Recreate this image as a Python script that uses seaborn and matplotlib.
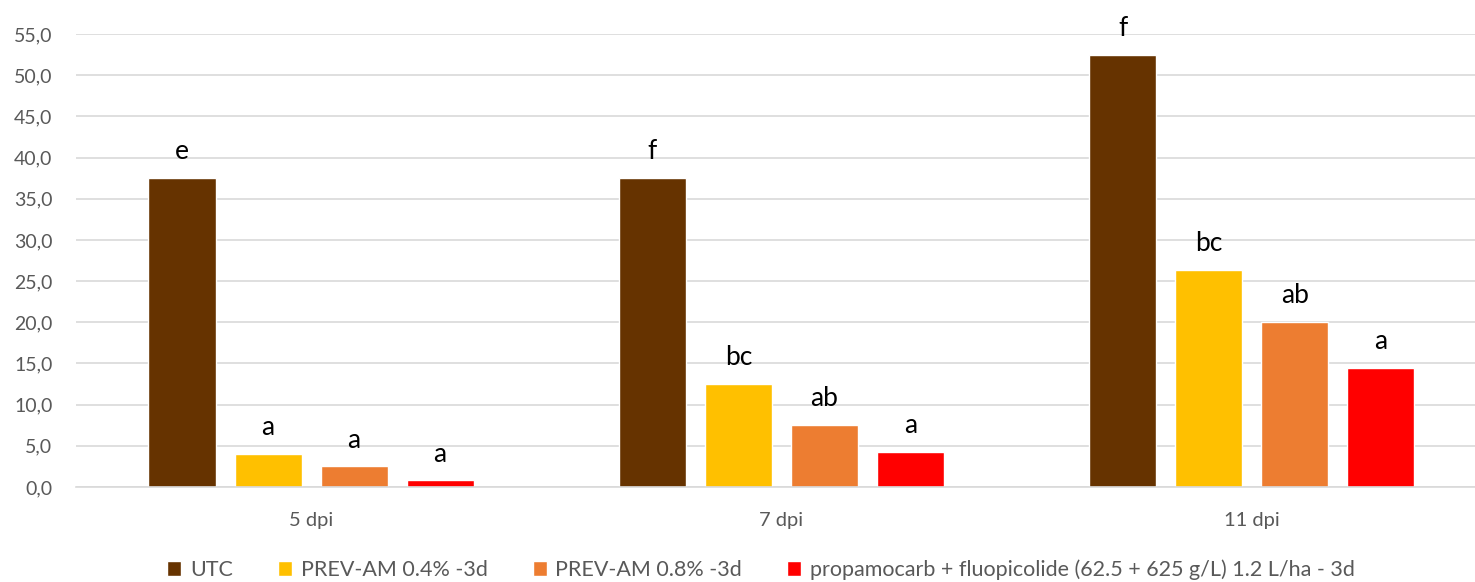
#!/usr/bin/env python3
"""Grouped bar chart: disease severity by treatment at 5, 7 and 11 dpi."""
import pandas as pd
import seaborn as sns
import matplotlib.pyplot as plt
from matplotlib.ticker import FuncFormatter, MultipleLocator

# data
timepoints = ["5 dpi", "7 dpi", "11 dpi"]
treatments = [
    "UTC",
    "PREV-AM 0.4% -3d",
    "PREV-AM 0.8% -3d",
    "propamocarb + fluopicolide (62.5 + 625 g/L) 1.2 L/ha - 3d",
]
utc = [37.5, 37.5, 52.5]
prev_04 = [4.0, 12.5, 26.3]
prev_08 = [2.5, 7.5, 20.0]
propamocarb = [0.8, 4.3, 14.5]
letters_utc = ["e", "f", "f"]
letters_prev_04 = ["a", "bc", "bc"]
letters_prev_08 = ["a", "ab", "ab"]
letters_propamocarb = ["a", "a", "a"]
colors = ["#663300", "#FFC000", "#ED7D31", "#FF0000"]

series = [utc, prev_04, prev_08, propamocarb]
letters = [letters_utc, letters_prev_04, letters_prev_08, letters_propamocarb]

rows = []
for name, vals in zip(treatments, series):
    for tp, v in zip(timepoints, vals):
        rows.append({"Time": tp, "Treatment": name, "Value": v})
df = pd.DataFrame(rows)

sns.set_style("white")
plt.rcParams["font.family"] = ["Lato", "DejaVu Sans"]

fig = plt.figure(figsize=(14.75, 5.82), dpi=100)
ax = fig.add_axes([0.0515, 0.1632, 0.9485, 0.7784])

sns.barplot(data=df, x="Time", y="Value", hue="Treatment", order=timepoints,
            hue_order=treatments, palette=colors, width=0.732, gap=0.22,
            saturation=1, ax=ax)

# significance letters above each bar
for cont, labs in zip(ax.containers, letters):
    ax.bar_label(cont, labels=labs, padding=10, fontsize=19, color="black", clip_on=False)

ax.set_ylim(0, 55)
ax.set_xlim(-0.5, 2.475)
ax.yaxis.set_major_locator(MultipleLocator(5))
ax.yaxis.set_major_formatter(FuncFormatter(lambda v, _: f"{v:.1f}".replace(".", ",")))
ax.grid(axis="y", color="#D9D9D9", linewidth=1.2)
ax.set_axisbelow(True)
for s in ["top", "right", "left"]:
    ax.spines[s].set_visible(False)
ax.spines["bottom"].set_color("#D9D9D9")
ax.spines["bottom"].set_linewidth(1.2)
ax.tick_params(axis="y", length=0, pad=17, labelsize=14, labelcolor="#595959")
ax.tick_params(axis="x", length=0, pad=18, labelsize=14.5, labelcolor="#595959")
ax.set_xlabel("")
ax.set_ylabel("")

handles, labels = ax.get_legend_handles_labels()
ax.get_legend().remove()
fig.legend(handles, labels, loc="lower center", bbox_to_anchor=(0.516, -0.03), ncol=4,
           frameon=False, fontsize=15.5, labelcolor="#595959", handlelength=0.65,
           handleheight=0.65, handletextpad=0.4, columnspacing=2.1)

fig.savefig("out.png", dpi=100)
